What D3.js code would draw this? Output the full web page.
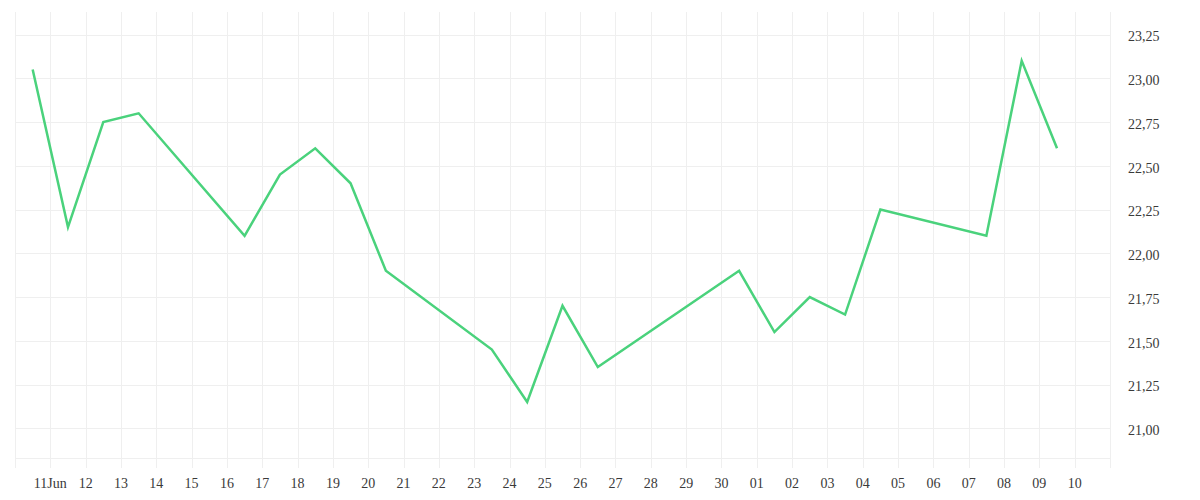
<!DOCTYPE html>
<html><head><meta charset="utf-8">
<script src="https://cdn.jsdelivr.net/npm/d3@7"></script>
<style>html,body{margin:0;padding:0;background:#fff;}svg{display:block;}</style>
</head><body>
<svg id="chart" width="1200" height="500"></svg>
<script>
// Data
const dates = ["2025-06-10","2025-06-11","2025-06-12","2025-06-13","2025-06-16","2025-06-17","2025-06-18","2025-06-19","2025-06-20","2025-06-23","2025-06-24","2025-06-25","2025-06-26","2025-06-30","2025-07-01","2025-07-02","2025-07-03","2025-07-04","2025-07-07","2025-07-08","2025-07-09"];
const values = [23.05,22.15,22.75,22.80,22.10,22.45,22.60,22.40,21.90,21.45,21.15,21.70,21.35,21.90,21.55,21.75,21.65,22.25,22.10,23.10,22.60];
const tickDates = ["2025-06-11","2025-06-12","2025-06-13","2025-06-14","2025-06-15","2025-06-16","2025-06-17","2025-06-18","2025-06-19","2025-06-20","2025-06-21","2025-06-22","2025-06-23","2025-06-24","2025-06-25","2025-06-26","2025-06-27","2025-06-28","2025-06-29","2025-06-30","2025-07-01","2025-07-02","2025-07-03","2025-07-04","2025-07-05","2025-07-06","2025-07-07","2025-07-08","2025-07-09","2025-07-10"];
const tickLabels = ["11Jun","12","13","14","15","16","17","18","19","20","21","22","23","24","25","26","27","28","29","30","01","02","03","04","05","06","07","08","09","10"];
const yTicks = [21.00,21.25,21.50,21.75,22.00,22.25,22.50,22.75,23.00,23.25];
const xDomain = ["2025-06-10","2025-07-11"];

(function () {
const svg = d3.select("#chart");
const mLeft = 15, mRight = 1110, mTop = 12, mBottom = 458, tickEnd = 468;
const parse = s => new Date(s + "T00:00:00Z");
const noon = s => new Date(s + "T12:00:00Z");

const x = d3.scaleUtc().domain(xDomain.map(parse)).range([mLeft, mRight]);
const y = d3.scaleLinear().domain([21, 23.25]).range([428.3, 34.55]);

const gridColor = "#efefef";
const g = svg.append("g");

const allDays = d3.utcDay.range(parse(xDomain[0]), d3.utcDay.offset(parse(xDomain[1]), 1));
g.selectAll("line.vg").data(allDays).join("line")
  .attr("x1", d => Math.round(x(d)) + 0.5).attr("x2", d => Math.round(x(d)) + 0.5)
  .attr("y1", mTop).attr("y2", tickEnd)
  .attr("stroke", gridColor).attr("stroke-width", 1);

g.selectAll("line.hg").data(yTicks).join("line")
  .attr("x1", mLeft).attr("x2", mRight)
  .attr("y1", d => Math.round(y(d)) + 0.5).attr("y2", d => Math.round(y(d)) + 0.5)
  .attr("stroke", gridColor).attr("stroke-width", 1);

g.append("line").attr("x1", mLeft).attr("x2", mRight)
  .attr("y1", mBottom + 0.5).attr("y2", mBottom + 0.5)
  .attr("stroke", gridColor);

g.append("line").attr("x1", mRight + 0.5).attr("x2", mRight + 0.5)
  .attr("y1", mTop).attr("y2", tickEnd).attr("stroke", gridColor);

svg.append("g").selectAll("text").data(yTicks).join("text")
  .attr("x", 1128).attr("y", d => y(d) + 2)
  .attr("dy", "0.35em")
  .attr("font-family", "'Liberation Serif', serif").attr("font-size", 14)
  .attr("fill", "#3a3a3a")
  .text(d => d3.format(".2f")(d).replace(".", ","));

svg.append("g").selectAll("text").data(tickDates).join("text")
  .attr("x", d => x(parse(d))).attr("y", 483)
  .attr("dy", "0.35em").attr("text-anchor", "middle")
  .attr("font-family", "'Liberation Serif', serif").attr("font-size", 14)
  .attr("fill", "#3a3a3a")
  .text((d, i) => tickLabels[i]);

const line = d3.line().x((d, i) => x(noon(dates[i]))).y(d => y(d));
svg.append("path").datum(values)
  .attr("d", line).attr("fill", "none")
  .attr("stroke", "#4ad27c").attr("stroke-width", 2.5)
  .attr("stroke-linejoin", "miter").attr("stroke-linecap", "butt");
})();
</script>
</body></html>
